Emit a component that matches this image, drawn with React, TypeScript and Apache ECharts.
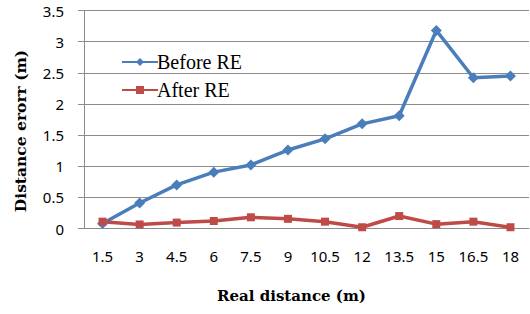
import React, { useEffect, useRef } from "react";
import * as echarts from "echarts";

const categories = ["1.5", "3", "4.5", "6", "7.5", "9", "10.5", "12", "13.5", "15", "16.5", "18"];
const beforeRE = [0.08, 0.41, 0.7, 0.905, 1.02, 1.26, 1.44, 1.68, 1.81, 3.18, 2.42, 2.45];
const afterRE = [0.11, 0.065, 0.095, 0.12, 0.18, 0.155, 0.11, 0.02, 0.2, 0.07, 0.11, 0.02];
const yTicks = { min: 0, max: 3.5, interval: 0.5 };

export default function App() {
  const ref = useRef<HTMLDivElement>(null);
  useEffect(() => {
    if (!ref.current) return;
    const chart = echarts.init(ref.current, null, { renderer: "svg" });
    const serif = "'Liberation Serif', 'Times New Roman', serif";
    const titleSerif = "'DejaVu Serif', serif";
    const sans = "'Noto Sans', sans-serif";
    chart.setOption({
      animation: false,
      backgroundColor: "#ffffff",
      grid: { left: 84, right: 1, top: 10.5, bottom: 85.5, containLabel: false },
      legend: {
        orient: "vertical",
        left: 116,
        top: 47,
        itemWidth: 36,
        itemHeight: 10,
        itemGap: 8,
        textStyle: { fontFamily: serif, fontSize: 20, color: "#000", padding: [0, 0, 0, -6] },
        data: ["Before RE", "After RE"],
      },
      xAxis: {
        type: "category",
        data: categories,
        boundaryGap: true,
        axisLine: { lineStyle: { color: "#8c8c8c", width: 1 } },
        axisTick: { show: false },
        axisLabel: { fontFamily: sans, fontSize: 15, color: "#000", margin: 20, interval: 0 },
        name: "Real distance (m)",
        nameLocation: "middle",
        nameGap: 60,
        nameTextStyle: {
          fontFamily: titleSerif,
          fontSize: 15,
          fontWeight: "bold",
          color: "#000",
          padding: [0, 30, 0, 0],
        },
      },
      yAxis: {
        type: "value",
        min: yTicks.min,
        max: yTicks.max,
        interval: yTicks.interval,
        axisLine: { show: true, lineStyle: { color: "#8c8c8c", width: 1 } },
        axisTick: { show: true, length: 6, lineStyle: { color: "#8c8c8c" } },
        splitLine: { lineStyle: { color: "#8c8c8c", width: 1 } },
        axisLabel: { fontFamily: sans, fontSize: 15, color: "#000", margin: 20 },
        name: "Distance erorr (m)",
        nameLocation: "middle",
        nameGap: 56,
        nameTextStyle: {
          fontFamily: titleSerif,
          fontSize: 15.5,
          fontWeight: "bold",
          color: "#000",
          padding: [0, 23, 0, 0],
        },
      },
      series: [
        {
          name: "Before RE",
          type: "line",
          data: beforeRE,
          symbol: "diamond",
          symbolSize: 11,
          lineStyle: { color: "#4a7ebb", width: 3.5 },
          itemStyle: { color: "#4a7ebb" },
        },
        {
          name: "After RE",
          type: "line",
          data: afterRE,
          symbol: "rect",
          symbolSize: 8,
          lineStyle: { color: "#be4b48", width: 3.5 },
          itemStyle: { color: "#be4b48" },
        },
      ],
    });
    return () => chart.dispose();
  }, []);
  return <div ref={ref} style={{ width: 530, height: 314, position: "absolute", left: 0, top: 0 }} />;
}
